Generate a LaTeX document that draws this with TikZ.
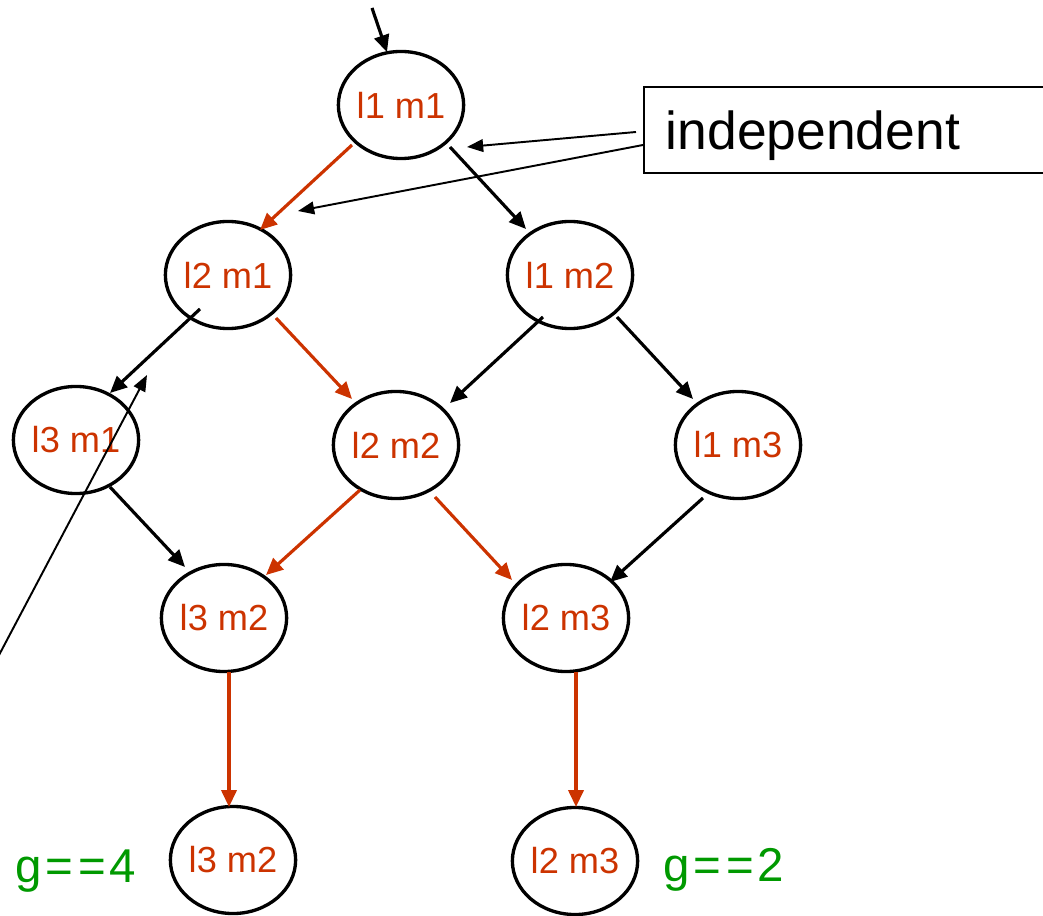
\documentclass[tikz,border=0pt]{standalone}
\usepackage{fontspec}
\setmainfont{Liberation Sans}
\usetikzlibrary{arrows.meta,shapes.geometric,calc}
\definecolor{pathred}{RGB}{204,51,0}
\definecolor{goalgreen}{RGB}{0,153,0}
\begin{document}
\begin{tikzpicture}[x=0.01cm,y=-0.01cm,
  state/.style={ellipse,draw=black,line width=0.95pt,inner sep=0pt,
    minimum width=1.24cm,minimum height=1.07cm,text=pathred,
    font=\fontsize{10.3}{12}\selectfont},
  edge/.style={line width=0.9pt,-{Triangle[length=4.8pt,width=4.3pt]}},
  redge/.style={edge,draw=pathred,-{Triangle[length=4.8pt,width=4.3pt,fill=pathred]}},
  thin/.style={line width=0.55pt,-{Triangle[length=4.6pt,width=3.6pt]}},
  indbox/.style={draw,line width=0.6pt,minimum width=4.6cm,minimum height=0.86cm,
    inner sep=0pt,anchor=west},
  goal/.style={text=goalgreen,anchor=base,font=\fontsize{13.5}{16}\selectfont}]
\useasboundingbox (0,0) rectangle (1043,916);

% search states
\node[state] (l11) at (401,105) {l1 m1};
\node[state] (l21) at (228,275) {l2 m1};
\node[state] (l12) at (570,275) {l1 m2};
\node[state] (l31) at (76,440) {l3 m1};
\node[state] (l22) at (396,445) {l2 m2};
\node[state] (l13) at (738,445) {l1 m3};
\node[state] (l32) at (224,618) {l3 m2};
\node[state] (l23) at (566,618) {l2 m3};
\node[state] (l32b) at (233,860) {l3 m2};
\node[state] (l23b) at (575,861) {l2 m3};

% goal annotations
\node[goal] (g4) at (76,882) {g\kern0.9pt=\kern1.6pt=\kern0.9pt4};
\node[goal] (g2) at (724,881) {g\kern0.9pt=\kern1.6pt=\kern0.9pt2};

% label box
\node[indbox] (ind) at (643,130) {};
\node[anchor=base west,inner sep=0pt,font=\fontsize{15.2}{18}\selectfont] (indtxt) at (665,150) {independent};

% free ends
\coordinate (entry) at (372,8);
\coordinate (lineA) at (-2,657);
\coordinate (lineB) at (147,375);

% entry arrow
\draw[edge] (entry) -- ($(l11)+(-14,-53)$);

% pointers from the label
\draw[thin] ($(ind.west)+(-7,2)$) -- ($(l11)+(66,42)$);
\draw[thin] ($(ind.west)+(0,15)$) -- ($(l21)+(70,-64)$);

% expansion edges
\draw[redge] ($(l11)+(-49,40)$) -- ($(l21)+(32,-45)$);
\draw[edge]  ($(l11)+(49,42)$) -- ($(l12)+(-44,-46)$);
\draw[edge]  ($(l21)+(-28,34)$) -- ($(l31)+(34,-47)$);
\draw[redge] ($(l21)+(48,43)$) -- ($(l22)+(-44,-46)$);
\draw[edge]  ($(l12)+(-27,42)$) -- ($(l22)+(54,-42)$);
\draw[edge]  ($(l12)+(47,42)$) -- ($(l13)+(-45,-46)$);
\draw[edge]  ($(l31)+(34,47)$) -- ($(l32)+(-39,-51)$);
\draw[redge] ($(l22)+(-36,45)$) -- ($(l32)+(42,-43)$);
\draw[redge] ($(l22)+(39,52)$) -- ($(l23)+(-54,-38)$);
\draw[edge]  ($(l13)+(-35,53)$) -- ($(l23)+(44,-36)$);
\draw[redge] ($(l32)+(5,54)$) -- ($(l32b)+(-4,-53)$);
\draw[redge] ($(l23)+(10,54)$) -- ($(l23b)+(1,-54)$);

% long pointer from the lower left
\draw[thin] (lineA) -- (lineB);
\end{tikzpicture}
\end{document}
